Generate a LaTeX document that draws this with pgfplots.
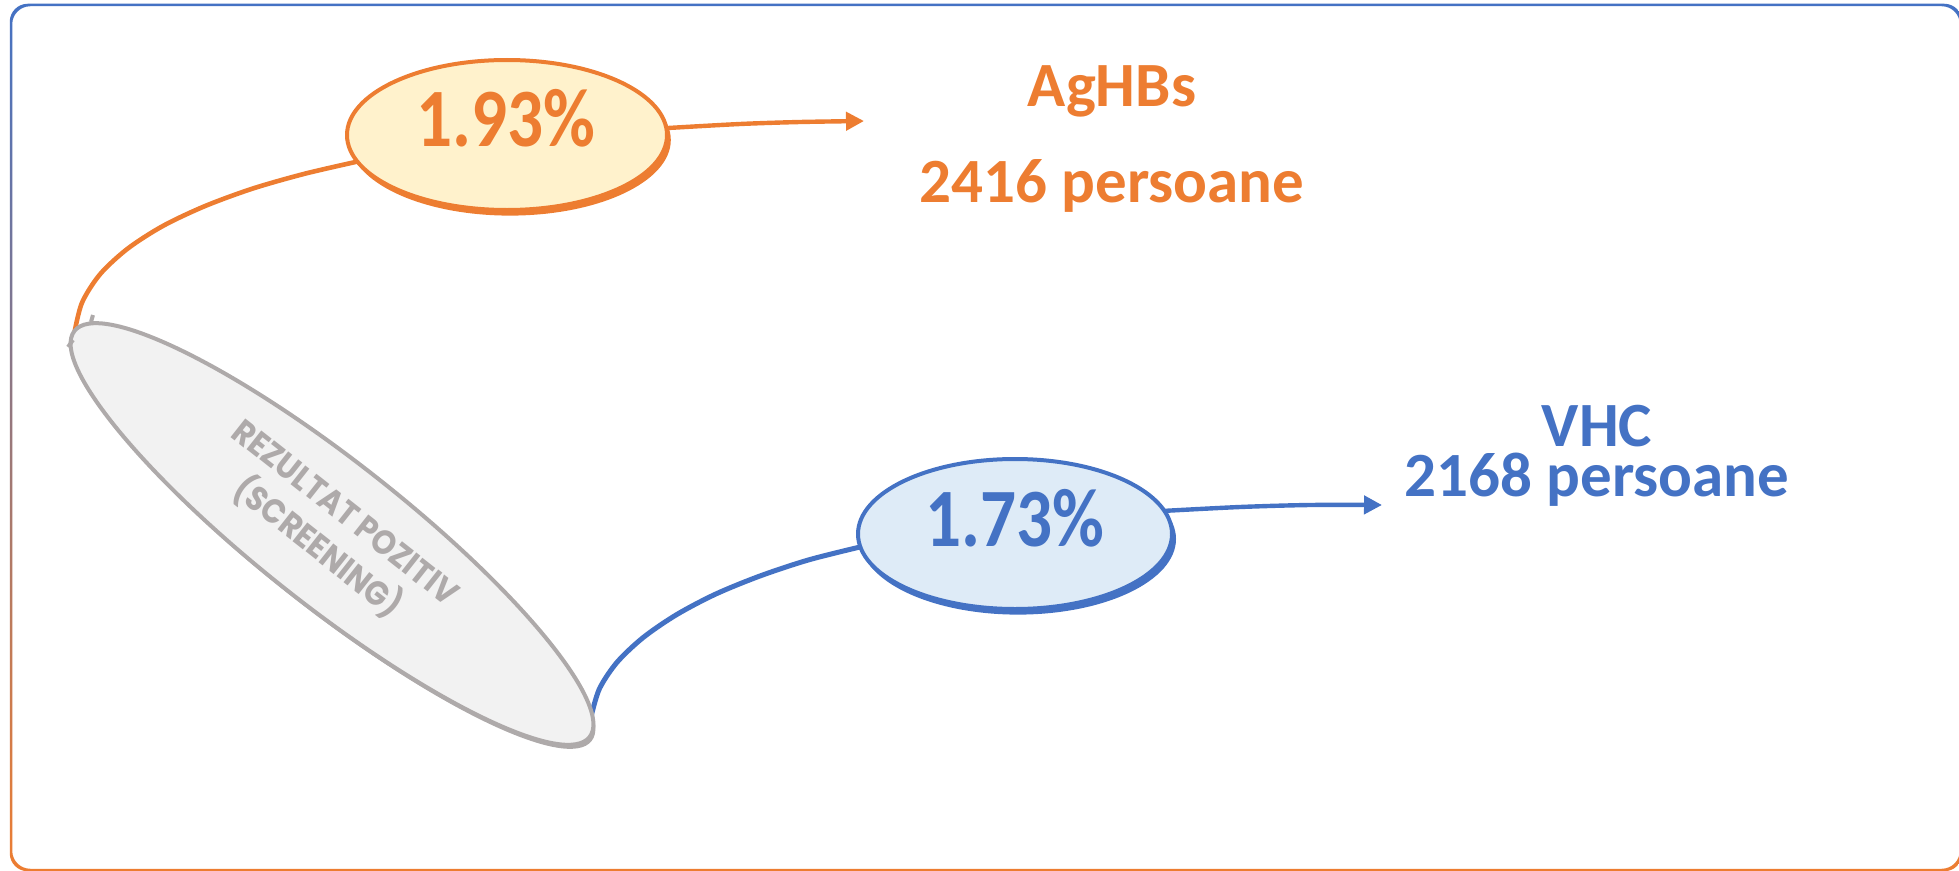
\documentclass[border=0pt]{standalone}
\usepackage{fontspec}
\setmainfont{Carlito}
\newfontfamily\gfont{Poppins}
\usepackage{pgfplots}
\pgfplotsset{compat=1.18}
\usetikzlibrary{arrows.meta}
\definecolor{cor}{HTML}{ED7D31}
\definecolor{cbl}{HTML}{4472C4}
\definecolor{cgr}{HTML}{AEAAAA}
\definecolor{forf}{HTML}{FFF2CC}
\definecolor{fblf}{HTML}{DEEBF7}
\definecolor{fgr}{HTML}{F2F2F2}
\begin{document}
\begin{tikzpicture}
\useasboundingbox (0,0) rectangle (489.75pt,217.5pt);
\clip (0,0) rectangle (489.75pt,217.5pt);
\begin{axis}[at={(0,0)}, anchor=south west, x=0.25pt, y=0.25pt,
  xmin=0, xmax=1959, ymin=0, ymax=870, hide axis, clip=false]
% frame
\shade[top color=cbl, bottom color=cor, even odd rule, rounded corners=4.5pt]
  (axis cs:9.75,-1.25) rectangle (axis cs:1962.25,866.25)
  (axis cs:12.25,1.25) rectangle (axis cs:1959.75,863.75);
% connectors
\addplot[cor, line width=1.15pt, smooth] coordinates {(360,709) (304.9,696.3) (252.9,681.5) (205.2,664) (163,644.1) (127.7,621.4) (100.1,595.8) (81.9,567.1) (74,535)};
\addplot[cbl, line width=1.25pt, smooth] coordinates {(860,323) (808.6,310.1) (760.2,294.1) (715.6,275.9) (676.4,255.25) (643.2,232.5) (617,207.7) (599.4,181.2) (591,153)};
% arrows
\addplot[cor, line width=1.1pt, smooth, -{Triangle[length=4.5pt,width=4.5pt]}] coordinates {(668,742) (740,746) (800,748) (864,749)};
\addplot[cbl, line width=1.1pt, smooth, -{Triangle[length=4.5pt,width=4.5pt]}] coordinates {(1162,359) (1240,363) (1310,365) (1382,365)};
% gray ellipse
\fill[cgr, rotate around={-38.25:(axis cs:334,332)}] (axis cs:334,332) ellipse[x radius=82pt, y radius=18pt];
\filldraw[fill=fgr, draw=cgr, line width=1pt, rotate around={-38.25:(axis cs:332,336)}] (axis cs:332,336) ellipse[x radius=82pt, y radius=18pt];
\draw[cgr, line width=1pt] (axis cs:93,555) -- (axis cs:91,548);
\draw[cgr, line width=1pt] (axis cs:68,523) -- (axis cs:73,530);
\node[cgr, rotate=-38.25, align=center, font=\gfont\bfseries\fontsize{8.5}{11}\selectfont] at (axis cs:330,338) {\scalebox{0.9}[1]{REZULTAT POZITIV}\\\scalebox{0.9}[1]{(SCREENING)}};
% orange ellipse
\fill[cor] (axis cs:510,730) ellipse[x radius=40.2pt, y radius=18.9pt];
\filldraw[fill=forf, draw=cor, line width=1pt] (axis cs:507,735) ellipse[x radius=40pt, y radius=18.75pt];
\node[cor, anchor=base, font=\bfseries\fontsize{19.75}{22}\selectfont] at (axis cs:506,724) {\scalebox{0.9}[1.05]{1.93\%}};
% blue ellipse
\fill[cbl] (axis cs:1018,331) ellipse[x radius=39.5pt, y radius=18.9pt];
\filldraw[fill=fblf, draw=cbl, line width=1pt] (axis cs:1015,336) ellipse[x radius=39.25pt, y radius=18.75pt];
\node[cbl, anchor=base, font=\bfseries\fontsize{19.75}{22}\selectfont] at (axis cs:1015,324) {\scalebox{0.9}[1.05]{1.73\%}};
% labels
\node[cor, anchor=base, font=\bfseries\fontsize{15.75}{18}\selectfont] at (axis cs:1112,764) {AgHBs};
\node[cor, anchor=base, font=\bfseries\fontsize{15.75}{18}\selectfont] at (axis cs:1112,668) {2416 persoane};
\node[cbl, anchor=base, font=\bfseries\fontsize{15.75}{18}\selectfont] at (axis cs:1597,424) {VHC};
\node[cbl, anchor=base, font=\bfseries\fontsize{15.75}{18}\selectfont] at (axis cs:1597,374) {2168 persoane};
\end{axis}
\end{tikzpicture}
\end{document}
